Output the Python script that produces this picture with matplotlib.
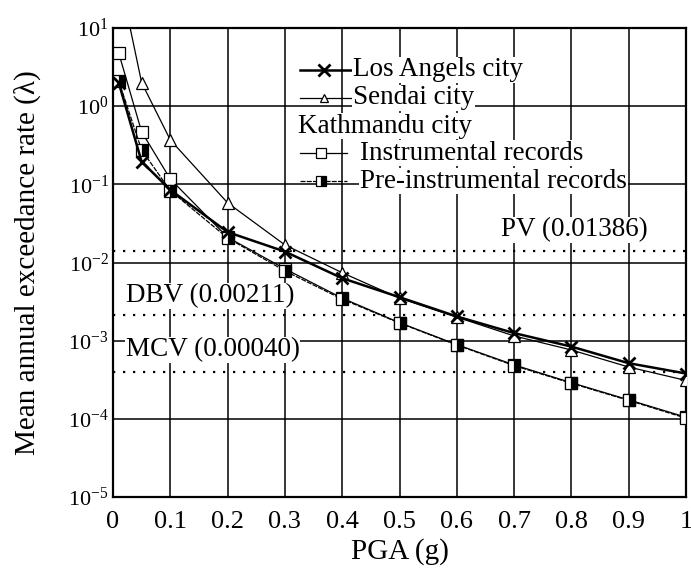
import numpy as np
import matplotlib
matplotlib.use('Agg')
import matplotlib.pyplot as plt
from matplotlib.ticker import FixedLocator, NullLocator, FuncFormatter

plt.rcParams['font.family'] = ['Liberation Serif', 'DejaVu Serif']
plt.rcParams['mathtext.fontset'] = 'custom'
plt.rcParams['mathtext.rm'] = 'Liberation Serif'
plt.rcParams['mathtext.it'] = 'Liberation Serif:italic'

# hazard curves (PGA in g, mean annual exceedance rate)
PGA = [0.01, 0.05, 0.1, 0.2, 0.3, 0.4, 0.5, 0.6, 0.7, 0.8, 0.9, 1.0]
LOS_ANGELS = [2.0, 0.195, 0.085, 0.0245, 0.0138, 0.0063, 0.0036, 0.00204, 0.00125,
              0.00084, 0.000515, 0.00038]
SENDAI = [50.0, 2.0, 0.37, 0.058, 0.0168, 0.0074, 0.0035, 0.0020, 0.00115,
          0.00076, 0.00046, 0.00031]
INSTRUMENTAL = [4.8, 0.47, 0.117, 0.021, 0.0083, 0.0035, 0.0017, 0.00089, 0.00049,
                0.00029, 0.000175, 0.000105]
PRE_INSTRUMENTAL = [2.1, 0.275, 0.083, 0.0206, 0.0078, 0.0034, 0.00168, 0.00088, 0.00048,
                    0.000285, 0.000172, 0.000102]

# reference levels
LEVELS = [0.01386, 0.00211, 0.00040]
LEVEL_NAMES = ['PV', 'DBV', 'MCV']

XTICKS = [0, 0.1, 0.2, 0.3, 0.4, 0.5, 0.6, 0.7, 0.8, 0.9, 1]
YTICKS = [1e-5, 1e-4, 1e-3, 1e-2, 1e-1, 1e0, 1e1]

FS = 19.5

fig = plt.figure(figsize=(6.91, 5.69), dpi=100)
ax = fig.add_axes([0.1635, 0.1265, 0.8293, 0.8243])

ax.plot(PGA, SENDAI, color='black', lw=0.9, marker='^', ms=8,
        markerfacecolor='white', markeredgecolor='black', mew=0.9, zorder=4)
ax.plot(PGA, INSTRUMENTAL, color='black', lw=0.9, marker='s', ms=9,
        markerfacecolor='white', markeredgecolor='black', mew=0.9, zorder=4)
ax.plot(PGA, PRE_INSTRUMENTAL, color='black', lw=0.9, ls=(0, (4, 1)), marker='s', ms=9,
        fillstyle='right', markerfacecolor='black', markerfacecoloralt='white',
        markeredgecolor='black', mew=0.9, zorder=5)
ax.plot(PGA, LOS_ANGELS, color='black', lw=1.8, marker='x', ms=9, mew=2.0, zorder=6)

for lev in LEVELS:
    ax.axhline(lev, color='black', lw=1.6, ls=(0, (1, 3.5)), zorder=2)

ax.set_xlim(0, 1)
ax.set_ylim(1e-5, 1e1)
ax.set_yscale('log')
ax.xaxis.set_major_locator(FixedLocator(XTICKS))
ax.xaxis.set_major_formatter(FuncFormatter(lambda v, p: '%g' % v))
ax.yaxis.set_major_locator(FixedLocator(YTICKS))
ax.yaxis.set_minor_locator(NullLocator())
ax.yaxis.set_major_formatter(FuncFormatter(lambda v, p: r'$\mathregular{10^{%d}}$' % round(np.log10(v))))
ax.tick_params(axis='x', which='major', length=0, labelsize=19, pad=10)
ax.tick_params(axis='y', which='major', length=0, labelsize=16, pad=3)
ax.grid(True, color='black', lw=1.1, zorder=1)
ax.set_axisbelow(True)
for s in ax.spines.values():
    s.set_linewidth(1.6)

ax.set_xlabel('PGA (g)', fontsize=21)
ax.xaxis.set_label_coords(0.5, -0.088)
ax.set_ylabel('Mean annual exceedance rate (λ)', fontsize=21)
ax.yaxis.set_label_coords(-0.125, 0.5)

box = dict(facecolor='white', edgecolor='none', pad=0.5)
ax.text(0.934, LEVELS[0] * 1.88, '%s (%.5f)' % (LEVEL_NAMES[0], LEVELS[0]), ha='right', va='center',
        fontsize=FS, bbox=box, zorder=3)
ax.text(0.022, LEVELS[1] * 1.77, '%s (%.5f)' % (LEVEL_NAMES[1], LEVELS[1]), ha='left', va='center',
        fontsize=FS, bbox=box, zorder=3)
ax.text(0.022, LEVELS[2] * 1.9, '%s (%.5f)' % (LEVEL_NAMES[2], LEVELS[2]), ha='left', va='center',
        fontsize=FS, bbox=box, zorder=3)

# legend drawn by hand (text has white background, handles do not)
tr = ax.transAxes
def ax_x(px):
    return (px - 113) / 573.0
def ax_y(py):
    return (497 - py) / 469.0

rows = [
    (70, 'Los Angels city', 353, dict(lw=1.8, marker='x', ms=9, mew=2.0), 300, 352),
    (98, 'Sendai city', 353, dict(lw=0.9, marker='^', ms=6, markerfacecolor='white', mew=0.9), 300, 352),
    (153, 'Instrumental records', 360, dict(lw=0.9, marker='s', ms=7, markerfacecolor='white', mew=0.9), 300, 347),
    (181, 'Pre-instrumental records', 360, dict(lw=0.9, ls=(0, (4, 1)), marker='s', ms=7, fillstyle='right',
                                                markerfacecolor='black', markerfacecoloralt='white', mew=0.9), 300, 347),
]
for py, label, tx, style, x0, x1 in rows:
    xm = (x0 + x1) / 2.0 - 2
    ax.plot([ax_x(x0), ax_x(xm), ax_x(x1)], [ax_y(py)] * 3, color='black', markevery=[1],
            transform=tr, clip_on=False, zorder=7, **style)
    ax.text(ax_x(tx), ax_y(py), label, transform=tr, ha='left', va='center', fontsize=FS,
            bbox=box, zorder=7)
ax.text(ax_x(298), ax_y(126), 'Kathmandu city', transform=tr, ha='left', va='center', fontsize=FS,
        bbox=box, zorder=7)

fig.savefig('out.png', dpi=100)
